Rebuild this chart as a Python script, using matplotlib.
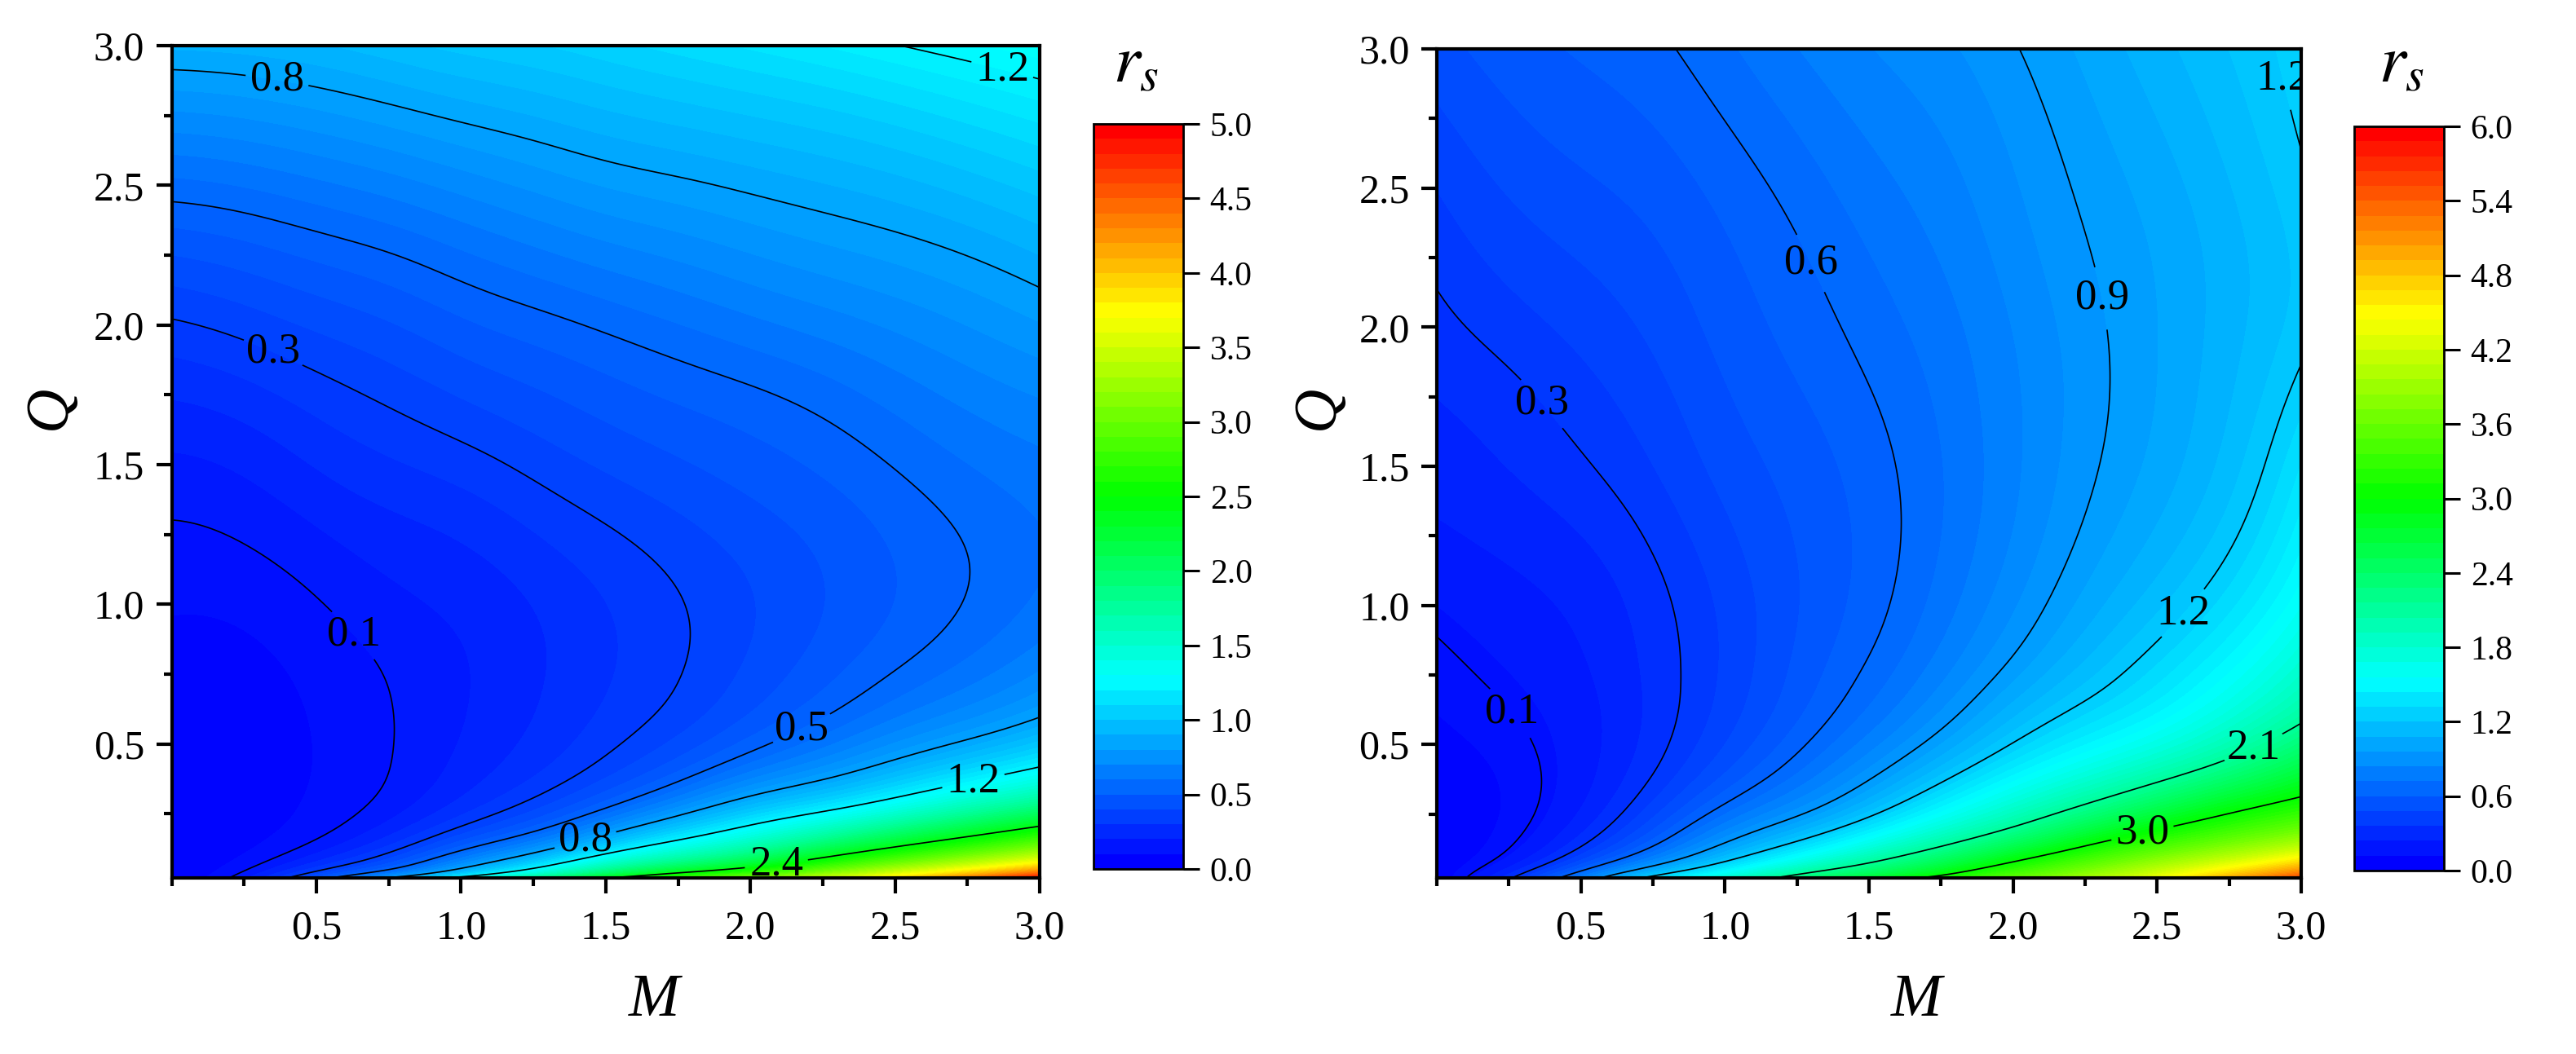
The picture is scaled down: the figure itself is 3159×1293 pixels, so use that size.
import numpy as np
import matplotlib
matplotlib.use('Agg')
import matplotlib.pyplot as plt
from matplotlib.colors import LinearSegmentedColormap, BoundaryNorm, Normalize
from matplotlib.cm import ScalarMappable
from matplotlib.ticker import MultipleLocator, FixedLocator

plt.rcParams['font.family'] = ['Liberation Serif', 'DejaVu Serif']
plt.rcParams['mathtext.fontset'] = 'stix'

# grid the r_s values were read on
m_values = [0, 0.25, 0.5, 0.75, 1.0, 1.25, 1.5, 1.75, 2.0, 2.25, 2.5, 2.75, 3.0]
q_values = [0.02, 0.05, 0.1, 0.15, 0.2, 0.3, 0.4, 0.5, 0.6, 0.8, 1.0, 1.25, 1.5, 1.75, 2.0, 2.25, 2.5, 2.75, 3.0]

# one list per M column, bottom to top in Q
rs_left = [
    [.01, .01, .008, .007, .006, .006, .008, .01, .014, .03, .058, .09, .14, .205, .29, .4, .535, .69, .86],
    [.15, .09, .05, .035, .028, .022, .02, .021, .024, .035, .06, .105, .155, .225, .325, .42, .55, .71, .87],
    [.42, .32, .17, .105, .075, .063, .055, .054, .056, .07, .097, .145, .21, .275, .365, .46, .59, .74, .89],
    [.85, .42, .33, .22, .17, .105, .098, .096, .097, .107, .14, .18, .245, .31, .39, .49, .62, .78, .93],
    [1.3, .85, .6, .42, .32, .21, .175, .155, .148, .145, .16, .2, .27, .36, .445, .54, .67, .82, .97],
    [1.85, 1.15, .86, .58, .44, .3, .24, .21, .2, .19, .2, .25, .32, .39, .47, .585, .71, .85, .99],
    [2.37, 1.85, 1.27, .96, .7, .44, .33, .29, .265, .245, .25, .29, .36, .43, .505, .63, .76, .89, 1.03],
    [2.8, 2.2, 1.6, 1.23, .98, .62, .44, .36, .32, .29, .295, .33, .395, .46, .545, .66, .78, .92, 1.07],
    [3.15, 2.5, 1.9, 1.5, 1.27, .87, .61, .47, .41, .36, .345, .375, .43, .48, .59, .7, .815, .95, 1.11],
    [3.5, 2.95, 2.35, 1.9, 1.5, 1.0, .72, .58, .49, .42, .4, .41, .46, .52, .62, .74, .84, .98, 1.15],
    [3.9, 3.35, 2.7, 2.25, 1.85, 1.22, .9, .71, .6, .49, .45, .46, .505, .57, .66, .765, .875, 1.02, 1.2],
    [4.45, 3.75, 3.05, 2.55, 2.15, 1.47, 1.08, .81, .68, .55, .505, .505, .55, .62, .7, .8, .92, 1.07, 1.24],
    [5.0, 4.2, 3.4, 2.85, 2.5, 1.7, 1.27, .97, .79, .63, .56, .545, .585, .65, .75, .85, .97, 1.12, 1.28],
]
rs_right = [
    [.03, .03, .025, .025, .025, .03, .035, .045, .06, .085, .12, .17, .21, .24, .28, .315, .36, .41, .455],
    [.3, .2, .1, .085, .07, .062, .068, .08, .1, .13, .16, .2, .245, .27, .335, .385, .43, .47, .51],
    [.75, .62, .39, .28, .22, .17, .155, .15, .15, .17, .19, .235, .29, .34, .38, .42, .47, .51, .55],
    [1.3, 1.0, .69, .56, .47, .36, .295, .27, .26, .265, .275, .31, .36, .39, .43, .465, .5, .54, .575],
    [1.75, 1.4, 1.07, .91, .78, .6, .48, .42, .39, .365, .375, .41, .45, .48, .51, .53, .56, .605, .65],
    [2.25, 2.0, 1.45, 1.2, .98, .77, .65, .585, .53, .5, .48, .485, .5, .53, .56, .585, .62, .67, .72],
    [2.7, 2.25, 1.95, 1.62, 1.33, 1.02, .86, .75, .68, .6, .565, .555, .57, .595, .63, .66, .7, .74, .78],
    [3.15, 2.75, 2.3, 2.0, 1.75, 1.37, 1.12, .95, .85, .74, .69, .66, .655, .67, .69, .72, .75, .78, .82],
    [3.55, 3.3, 2.85, 2.42, 2.05, 1.72, 1.42, 1.21, 1.09, .91, .83, .78, .765, .77, .78, .81, .83, .86, .895],
    [3.95, 3.65, 3.25, 2.95, 2.55, 2.02, 1.68, 1.44, 1.27, 1.08, .99, .92, .885, .87, .875, .9, .92, .945, .97],
    [4.4, 4.1, 3.7, 3.3, 2.95, 2.4, 1.95, 1.65, 1.43, 1.26, 1.12, 1.03, .98, .96, .96, .96, .98, 1.02, 1.06],
    [5.0, 4.6, 4.0, 3.6, 3.3, 2.8, 2.25, 1.95, 1.72, 1.45, 1.3, 1.17, 1.1, 1.07, 1.06, 1.05, 1.08, 1.11, 1.14],
    [5.6, 5.1, 4.45, 3.95, 3.55, 3.05, 2.65, 2.32, 2.03, 1.75, 1.55, 1.42, 1.33, 1.24, 1.16, 1.15, 1.19, 1.215, 1.235],
]

# where each contour line is labelled: (level, [(M, Q), ...])
labels_left = [(0.1, [(0.64, 0.9)]), (0.3, [(0.35, 1.9)]), (0.5, [(2.18, 0.55)]),
               (0.8, [(0.36, 2.85), (1.43, 0.155)]), (1.2, [(2.86, 2.87), (2.77, 0.37)]),
               (2.4, [(2.09, 0.07)])]
labels_right = [(0.1, [(0.22, 0.58)]), (0.3, [(0.36, 1.72)]), (0.6, [(1.32, 2.24)]),
                (0.9, [(2.29, 2.1)]), (1.2, [(2.85, 2.87), (2.56, 1.0)]),
                (2.1, [(2.83, 0.5)]), (3.0, [(2.46, 0.13)])]

W, H = 3159, 1293
rainbow = LinearSegmentedColormap.from_list(
    'origin_rainbow', [(0, '#0000ff'), (.25, '#00ffff'), (.5, '#00ff00'), (.75, '#ffff00'), (1, '#ff0000')], N=512)


def px_axes(fig, x0, x1, y0, y1):
    return fig.add_axes([x0 / W, 1 - y1 / H, (x1 - x0) / W, (y1 - y0) / H])


def smooth_field(rs):
    # readings are a bit noisy, local quadratic regression keeps the lines from wobbling
    mm, qq = np.meshgrid(m_values, q_values, indexing='ij')
    a = mm.ravel()
    b = np.sqrt(qq.ravel())
    u = np.cbrt(np.array(rs).ravel())
    m_fine = np.linspace(0, 3, 241)
    s_fine = np.linspace(np.sqrt(.02), np.sqrt(3), 321)
    out = np.zeros((len(s_fine), len(m_fine)))
    for i, s0 in enumerate(s_fine):
        da = a[None, :] - m_fine[:, None]
        db = np.broadcast_to(b - s0, da.shape)
        w = np.exp(-.5 * ((da / .22) ** 2 + (db / .085) ** 2))
        X = np.stack([np.ones_like(da), da, db, da * da, da * db, db * db], axis=2)
        XtW = X.transpose(0, 2, 1) * w[:, None, :]
        lhs = XtW @ X + 1e-9 * np.eye(6)
        rhs = XtW @ u
        out[i] = np.linalg.solve(lhs, rhs[..., None])[:, 0, 0]
    return m_fine, s_fine ** 2, np.clip(out, 0, None) ** 3


def draw_panel(fig, rs, labels, vmax, cb_step, box, cbox, xlab, ylab, rlab):
    ax = px_axes(fig, *box)
    m_fine, q_fine, field = smooth_field(rs)
    field = np.clip(field, 0, vmax)

    levels = np.linspace(0, vmax, 101)
    ax.contourf(m_fine, q_fine, field, levels=levels, cmap=rainbow, norm=Normalize(0, vmax))
    for level, spots in labels:
        cs = ax.contour(m_fine, q_fine, field, levels=[level], colors='k', linewidths=1.2)
        texts = ax.clabel(cs, fmt='%.1f', fontsize=38, manual=spots, inline=True, inline_spacing=6)
        for t in texts:
            t.set_rotation(0)

    ax.set_xlim(0, 3)
    ax.set_ylim(0.02, 3)
    ax.xaxis.set_major_locator(FixedLocator([.5, 1, 1.5, 2, 2.5, 3]))
    ax.yaxis.set_major_locator(FixedLocator([.5, 1, 1.5, 2, 2.5, 3]))
    ax.xaxis.set_minor_locator(MultipleLocator(.25))
    ax.yaxis.set_minor_locator(MultipleLocator(.25))
    ax.tick_params(which='major', length=14, width=3, labelsize=36)
    ax.tick_params(which='minor', length=7.5, width=3)
    ax.tick_params(axis='x', which='major', pad=14)
    ax.tick_params(axis='y', which='major', pad=10)
    ax.set_xticklabels(['0.5', '1.0', '1.5', '2.0', '2.5', '3.0'])
    ax.set_yticklabels(['0.5', '1.0', '1.5', '2.0', '2.5', '3.0'])
    for s in ax.spines.values():
        s.set_linewidth(3)
        s.set_zorder(5)

    cax = px_axes(fig, *cbox)
    bands = np.linspace(0, vmax, 51)
    cb = fig.colorbar(ScalarMappable(norm=BoundaryNorm(bands, 512), cmap=rainbow), cax=cax,
                      spacing='proportional', drawedges=False)
    cb.set_ticks(np.arange(0, vmax + 1e-6, cb_step))
    cb.set_ticklabels(['%.1f' % v for v in np.arange(0, vmax + 1e-6, cb_step)])
    cb.minorticks_off()
    cb.outline.set_linewidth(2)
    cax.tick_params(length=14.5, width=2.2, labelsize=30, pad=9)

    fig.text(xlab[0] / W, 1 - xlab[1] / H, 'M', style='italic', fontsize=54, ha='center', va='center')
    fig.text(ylab[0] / W, 1 - ylab[1] / H, 'Q', style='italic', fontsize=54, ha='center', va='center', rotation=90)
    fig.text(rlab[0] / W, 1 - rlab[1] / H, r'$r_s$', fontsize=60, ha='center', va='center')


fig = plt.figure(figsize=(W / 100, H / 100), dpi=100, facecolor='white')
draw_panel(fig, rs_left, labels_left, 5.0, 0.5,
           (210.6, 1275, 56, 1077), (1340.5, 1451, 152, 1066), (802, 1228), (62, 500), (1393, 81))
draw_panel(fig, rs_right, labels_right, 6.0, 0.6,
           (1762, 2822, 60, 1077), (2887, 2997, 155, 1068), (2350, 1228), (1617, 500), (2945, 81))
fig.savefig('out.png', dpi=100)
